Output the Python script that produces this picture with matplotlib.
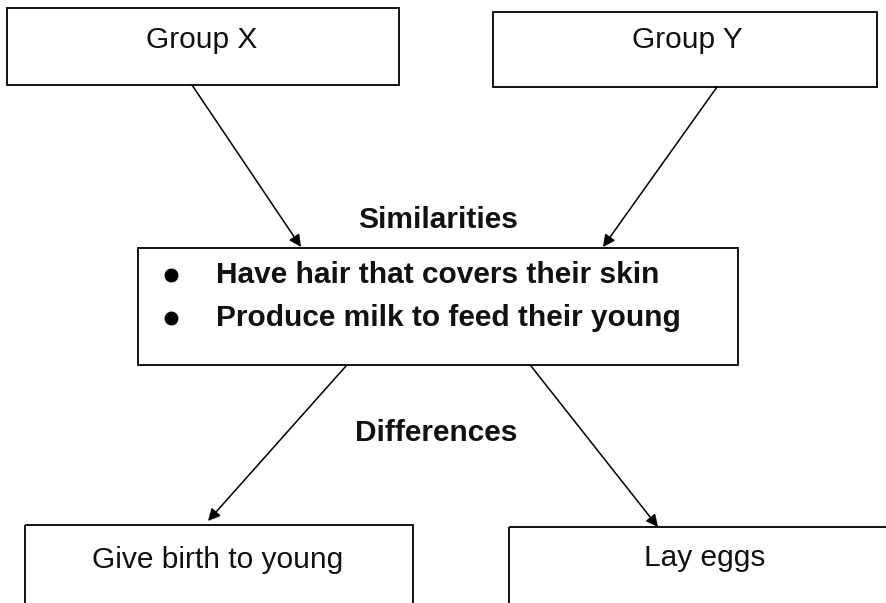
import matplotlib
matplotlib.use("Agg")
import matplotlib.pyplot as plt
from matplotlib.patches import Rectangle

# ---- content ----
group_labels = ["Group X", "Group Y"]
similarities_title = "Similarities"
similarities = ["Have hair that covers their skin", "Produce milk to feed their young"]
differences_title = "Differences"
difference_labels = ["Give birth to young", "Lay eggs"]

# ---- layout (pixel coordinates, y downwards) ----
W, H = 886, 603
group_boxes = [(7, 8, 399, 85), (493, 12, 877, 87)]          # x0, y0, x1, y1
group_text = [(202, 40), (687, 40)]
mid_box = (138, 248, 738, 365)
sim_title_pos = (438, 220)
bullet_x, item_x = 171, 216
item_y = [275, 318]
diff_title_pos = (436, 433)
diff_boxes = [(25, 525, 413, 640), (509, 527, 940, 640)]
diff_text = [(218, 560), (705, 558)]
arrows_top = [((192, 85), (301, 247)), ((717, 87), (603, 247))]
arrows_bot = [((346, 366), (208, 521)), ((531, 366), (658, 527))]

plt.rcParams['font.family'] = ['Liberation Sans', 'DejaVu Sans']
fs = 21.5

fig = plt.figure(figsize=(W / 100, H / 100), dpi=100)
ax = fig.add_axes([0, 0, 1, 1])
ax.set_xlim(0, W)
ax.set_ylim(H, 0)
ax.axis('off')

def box(b):
    x0, y0, x1, y1 = b
    ax.add_patch(Rectangle((x0, y0), x1 - x0, y1 - y0, fill=False,
                           edgecolor='black', linewidth=1.3, clip_on=True))

for b, (tx, ty), lab in zip(group_boxes, group_text, group_labels):
    box(b)
    ax.text(tx, ty, lab, ha='center', va='center', fontsize=fs, color='#111111')

box(mid_box)
ax.text(*sim_title_pos, similarities_title, ha='center', va='center',
        fontsize=fs, fontweight='bold', color='#111111')
for y, s in zip(item_y, similarities):
    ax.plot([bullet_x], [y], 'o', color='black', markersize=9)
    ax.text(item_x, y, s, ha='left', va='center', fontsize=fs,
            fontweight='bold', color='#111111')

ax.text(*diff_title_pos, differences_title, ha='center', va='center',
        fontsize=fs, fontweight='bold', color='#111111')

for b, (tx, ty), lab in zip(diff_boxes, diff_text, difference_labels):
    box(b)
    ax.text(tx, ty, lab, ha='center', va='center', fontsize=fs, color='#111111')

for (s, e) in arrows_top + arrows_bot:
    ax.annotate('', xy=e, xytext=s,
                arrowprops=dict(arrowstyle='-|>', color='black', lw=1.1,
                                mutation_scale=18, shrinkA=0, shrinkB=0))

fig.savefig('out.png', dpi=100, facecolor='white')
